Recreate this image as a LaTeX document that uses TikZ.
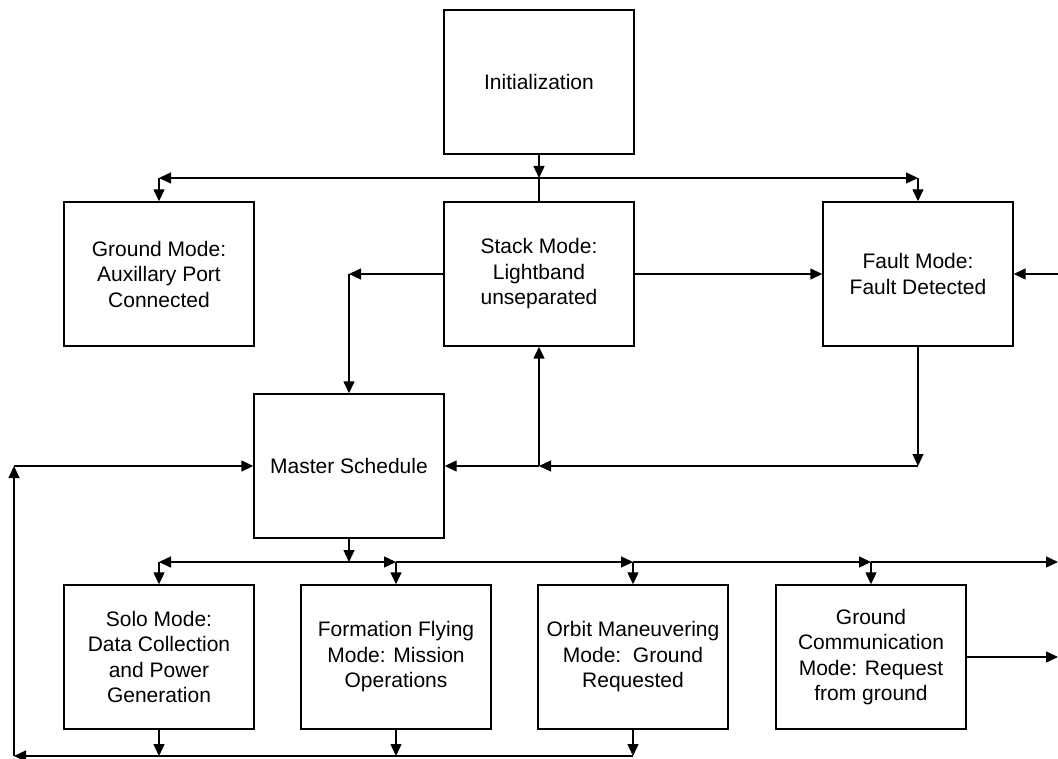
\documentclass[tikz,border=0pt]{standalone}
\usepackage{fontspec}
\setmainfont{Liberation Sans}
\usetikzlibrary{arrows.meta}
\begin{document}
\begin{tikzpicture}[x=1pt,y=-1pt,
  modebox/.style={draw, line width=1.4pt, minimum width=190pt, minimum height=144pt,
    inner sep=2pt, align=center, font=\fontsize{21}{25.5}\selectfont},
  conn/.style={line width=1.4pt, -{Triangle[length=12pt,width=11pt]}},
  plain/.style={line width=1.4pt}]
\useasboundingbox (0,0) rectangle (1058,759);

% mode boxes
\node[modebox] (init)   at (539,82)  {Initialization};
\node[modebox] (ground) at (159,274) {Ground Mode:\\Auxillary Port\\Connected};
\node[modebox] (stack)  at (539,274) {Stack Mode:\\Lightband\\unseparated};
\node[modebox] (fault)  at (918,274) {Fault Mode:\\Fault Detected};
\node[modebox] (master) at (349,466) {Master Schedule};
\node[modebox] (solo)   at (159,657) {Solo Mode:\\Data Collection\\and Power\\Generation};
\node[modebox] (form)   at (396,657) {Formation Flying\\Mode: Mission\\Operations};
\node[modebox] (orbit)  at (633,657) {Orbit Maneuvering\\Mode:\ \ Ground\\Requested};
\node[modebox] (gcomm)  at (871,657) {Ground\\Communication\\Mode: Request\\from ground};

% routing points
\coordinate (jtop)  at (539,178);
\coordinate (gtop)  at (159,178);
\coordinate (ftop)  at (918,178);
\coordinate (sl)    at (349,274);
\coordinate (fin)   at (1058,274);
\coordinate (fbot)  at (918,466);
\coordinate (jmid)  at (539,466);
\coordinate (mbot)  at (349,562);
\coordinate (b1)    at (159,562);
\coordinate (b2)    at (396,562);
\coordinate (b3)    at (633,562);
\coordinate (b4)    at (871,562);
\coordinate (bout)  at (1058,562);
\coordinate (gout)  at (1058,657);
\coordinate (r1)    at (159,756);
\coordinate (r2)    at (396,756);
\coordinate (r3)    at (633,756);
\coordinate (rl)    at (14,756);
\coordinate (rup)   at (14,466);

% initialization fan-out
\draw[conn]  (init.south) -- (jtop);
\draw[plain] (jtop) -- (stack.north);
\draw[conn]  (jtop) -- (gtop);
\draw[conn]  (gtop) -- (ground.north);
\draw[conn]  (jtop) -- (ftop);
\draw[conn]  (ftop) -- (fault.north);

% stack mode exits
\draw[conn] (stack.west) -- (sl);
\draw[conn] (sl) -- (master.north);
\draw[conn] (stack.east) -- (fault.west);
\draw[conn] (fin) -- (fault.east);

% fault recovery
\draw[conn] (fault.south) -- (fbot);
\draw[conn] (fbot) -- (jmid);
\draw[conn] (jmid) -- (master.east);
\draw[conn] (jmid) -- (stack.south);

% master schedule fan-out
\draw[conn] (master.south) -- (mbot);
\draw[conn] (mbot) -- (b1);
\draw[conn] (b1) -- (solo.north);
\draw[conn] (mbot) -- (b2);
\draw[conn] (b2) -- (form.north);
\draw[conn] (b2) -- (b3);
\draw[conn] (b3) -- (orbit.north);
\draw[conn] (b3) -- (b4);
\draw[conn] (b4) -- (gcomm.north);
\draw[conn] (b4) -- (bout);
\draw[conn] (gcomm.east) -- (gout);

% return path to master schedule
\draw[conn] (solo.south) -- (r1);
\draw[conn] (form.south) -- (r2);
\draw[conn] (orbit.south) -- (r3);
\draw[conn] (r3) -- (rl);
\draw[conn] (rl) -- (rup);
\draw[conn] (rup) -- (master.west);
\end{tikzpicture}
\end{document}
